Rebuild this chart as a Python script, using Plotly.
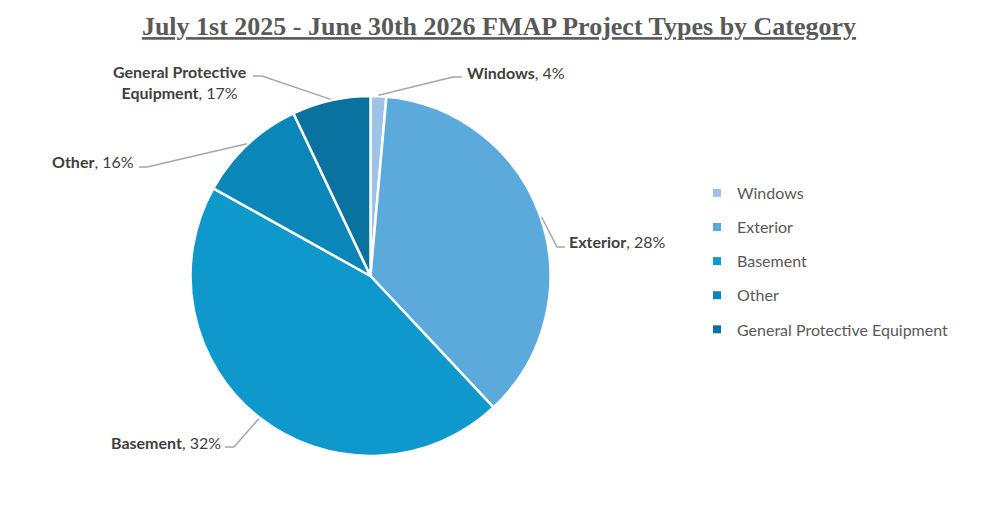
import math
import plotly.graph_objects as go

categories = ["Windows", "Exterior", "Basement", "Other", "General Protective Equipment"]
counts = [1, 26, 32, 7, 5]
label_pct = ["4%", "28%", "32%", "16%", "17%"]
label_names = ["Windows", "Exterior", "Basement", "Other", "General Protective<br>Equipment"]
colors = ["#9DC3E6", "#5BAADB", "#0E98CC", "#0B86B8", "#0A729E"]

W, H = 997, 505
OFF = 8  # page body margin, positions below are in screenshot pixels
cx, cy, R = 370.5, 276, 178


def px(x, y):
    return (x - OFF) / W, 1 - (y - OFF) / H


fig = go.Figure()
d0, d1 = px(cx - R - 2, cy + R + 2), px(cx + R + 2, cy - R - 2)
fig.add_trace(go.Pie(
    labels=categories, values=counts, sort=False, direction="clockwise", rotation=0,
    marker=dict(colors=colors, line=dict(color="white", width=2.5)),
    textinfo="none", showlegend=False,
    domain=dict(x=[d0[0], d1[0]], y=[d0[1], d1[1]]),
))

# legend built from empty square markers so the rows can be spaced out
for i, (c, col) in enumerate(zip(categories, colors)):
    fig.add_trace(go.Scatter(x=[None], y=[None], mode="markers", name=c, legendgroup=str(i),
                             marker=dict(symbol="square", size=8, color=col)))

# leader lines: start on the slice edge at its middle angle, then elbow -> end, text
elbow = [(453, 77, 462), (557, 247, 565), (234, 447, 225), (147, 167, 139), (262, 76, 253)]
text_pos = [(465, 72, "left"), (567, 242, "left"), (223, 442, "right"), (136, 161, "right"), (180, 82, "center")]

total = sum(counts)
acc = 0
for i, v in enumerate(counts):
    mid = (acc + v / 2) / total * 2 * math.pi
    acc += v
    sx = cx + (R + 3) * math.sin(mid)
    sy = cy - (R + 3) * math.cos(mid)
    ex, ey, hx = elbow[i]
    p0, p1, p2 = px(sx, sy), px(ex, ey), px(hx, ey)
    fig.add_shape(type="path", xref="paper", yref="paper",
                  path=f"M {p0[0]},{p0[1]} L {p1[0]},{p1[1]} L {p2[0]},{p2[1]}",
                  line=dict(color="#A6A6A6", width=1.5))
    tx, ty, anchor = text_pos[i]
    ax_, ay_ = px(tx, ty)
    fig.add_annotation(x=ax_, y=ay_, xref="paper", yref="paper", showarrow=False,
                       xanchor=anchor, yanchor="middle", align="center",
                       text=f"<b>{label_names[i]}</b>, {label_pct[i]}",
                       font=dict(family="Lato", size=16, color="#404040"))

lx, ly = px(697, 176)
fig.update_layout(
    width=W, height=H,
    margin=dict(l=0, r=0, t=0, b=0),
    paper_bgcolor="white", plot_bgcolor="white",
    title=dict(text="<b><u>July 1st 2025 - June 30th 2026 FMAP Project Types by Category</u></b>",
               x=(499 - OFF) / W, xanchor="center", y=px(0, 26)[1], yanchor="middle",
               font=dict(family="Liberation Serif", size=26, color="#595959")),
    xaxis=dict(visible=False), yaxis=dict(visible=False),
    legend=dict(x=lx, y=ly, xanchor="left", yanchor="top",
                font=dict(family="Lato", size=16, color="#595959"),
                tracegroupgap=10.3, itemwidth=30, bgcolor="rgba(0,0,0,0)"),
)

fig.write_html("out.html")
